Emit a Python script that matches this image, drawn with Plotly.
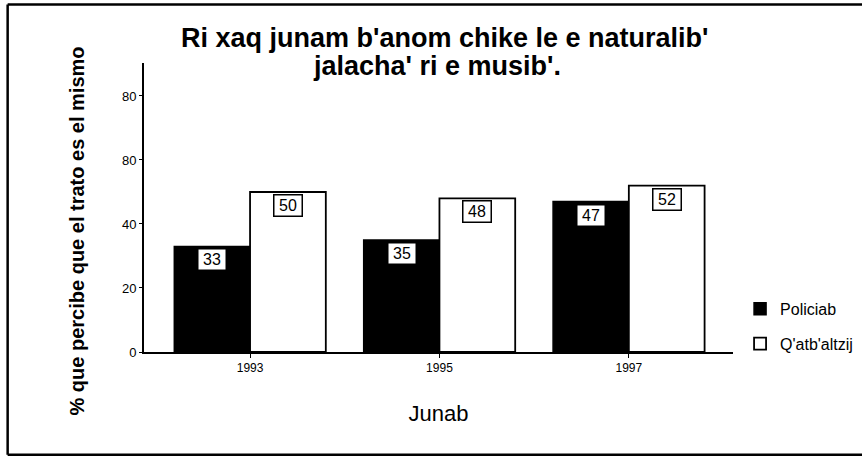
import plotly.graph_objects as go

# Datos
anios = ['1993', '1995', '1997']
policiab = [33, 35, 47]
qatbaltzij = [50, 48, 52]
y_ticks = [0, 20, 40, 60, 80]
y_ticktext = ['0', '20', '40', '80', '80']  # tal como aparece en el original

titulo_1 = "Ri xaq junam b'anom chike le e naturalib'"
titulo_2 = "jalacha' ri e musib'."
titulo_y = '% que percibe que el trato es el mismo'
titulo_x = 'Junab'

fuente = 'Liberation Sans, Arial, sans-serif'

fig = go.Figure()
fig.add_trace(go.Bar(x=anios, y=policiab, name='Policiab', legendgroup='a',
                     marker=dict(color='black', line=dict(color='black', width=1.5))))
fig.add_trace(go.Bar(x=anios, y=qatbaltzij, name="Q'atb'altzij", legendgroup='b',
                     marker=dict(color='white', line=dict(color='black', width=1.8))))

# Etiquetas con recuadro
for i in range(len(anios)):
    for serie, off in ((policiab, -0.2), (qatbaltzij, 0.2)):
        fig.add_annotation(x=i + off, y=serie[i], xref='x', yref='y',
                           text=str(serie[i]), showarrow=False,
                           xanchor='center', yanchor='top', yshift=-2,
                           width=25, height=18, borderpad=1,
                           bgcolor='white', bordercolor='black', borderwidth=1.5,
                           font=dict(family=fuente, size=16, color='black'))

# Titulo en dos lineas
fig.add_annotation(text='<b>' + titulo_1 + '</b>', xref='paper', yref='paper',
                   x=0.511, y=1.087, xanchor='center', yanchor='middle', showarrow=False,
                   font=dict(family=fuente, size=27, color='black'))
fig.add_annotation(text='<b>' + titulo_2 + '</b>', xref='paper', yref='paper',
                   x=0.497, y=0.99, xanchor='center', yanchor='middle', showarrow=False,
                   font=dict(family=fuente, size=27, color='black'))

# Titulo del eje Y (no centrado con el area del grafico)
fig.add_annotation(text='<b>' + titulo_y + '</b>', xref='paper', yref='paper',
                   x=-0.114, y=0.42, xanchor='center', yanchor='middle',
                   textangle=-90, showarrow=False,
                   font=dict(family=fuente, size=20, color='black'))

# Marco exterior: izquierda, arriba y abajo (el borde derecho queda fuera)
marco = dict(color='black', width=2.5)
fig.add_shape(type='line', xref='paper', yref='paper',
              x0=-0.2315, x1=-0.2315, y0=-0.3557, y1=1.2023, line=marco)
fig.add_shape(type='line', xref='paper', yref='paper',
              x0=-0.2315, x1=1.6, y0=1.2023, y1=1.2023, line=marco)
fig.add_shape(type='line', xref='paper', yref='paper',
              x0=-0.2315, x1=1.6, y0=-0.3557, y1=-0.3557, line=marco)

fig.update_layout(
    width=862, height=456,
    margin=dict(l=144, r=129, t=63, b=104, autoexpand=False),
    paper_bgcolor='white', plot_bgcolor='white',
    barmode='group', bargap=0.2, bargroupgap=0,
    font=dict(family=fuente, color='black'),
    xaxis=dict(range=[-0.56, 2.55], showline=True, linecolor='black', linewidth=1.8,
               ticks='outside', ticklen=4, tickcolor='black',
               tickfont=dict(size=12), showgrid=False,
               title=dict(text=titulo_x, font=dict(size=22), standoff=31)),
    yaxis=dict(range=[0, 90.3], showline=True, linecolor='black', linewidth=1.8,
               tickvals=y_ticks, ticktext=y_ticktext,
               ticks='outside', ticklen=3, tickcolor='black',
               tickfont=dict(size=13), showgrid=False, zeroline=False),
    legend=dict(x=1.012, xanchor='left', y=0.208, yanchor='top',
                font=dict(size=16), bgcolor='rgba(0,0,0,0)',
                traceorder='grouped', tracegroupgap=11),
)

fig.write_html('out.html', config={'displayModeBar': False},
               post_script="document.body.style.margin='0';")
